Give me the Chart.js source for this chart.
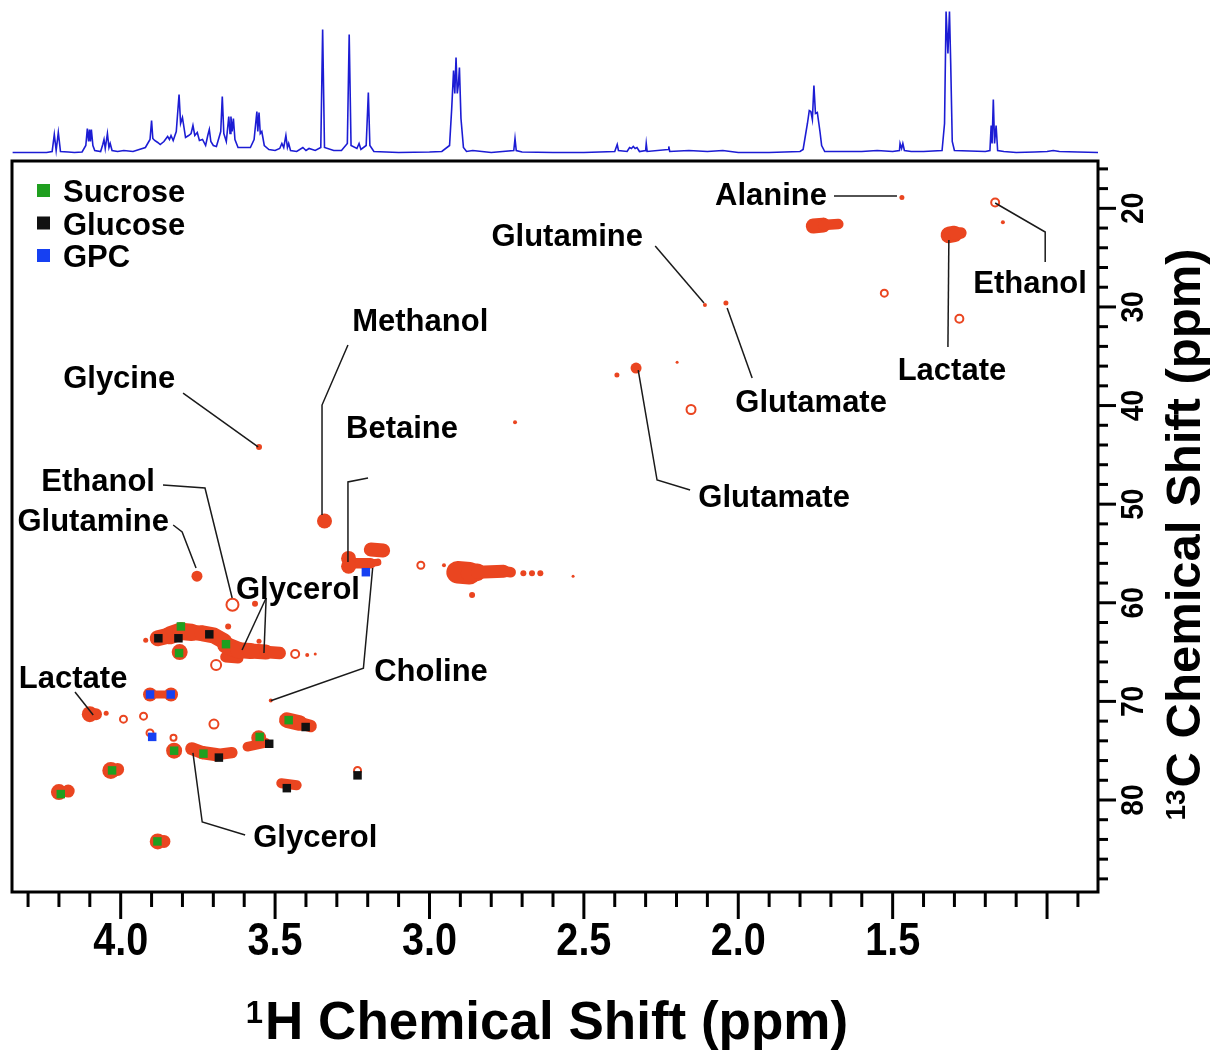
<!DOCTYPE html>
<html lang="en">
<head>
<meta charset="UTF-8">
<title>1H-13C HSQC with 1D 1H trace</title>
<script src="https://cdn.jsdelivr.net/npm/chart.js"></script>
<style>
  body { margin: 0; background: #fff; }
  #wrap { position: relative; width: 1211px; height: 1050px; }
  canvas { position: absolute; left: 0; top: 0; }
</style>
</head>
<body>
<div id="wrap">
  <canvas id="hsqc" width="1211" height="1050"></canvas>
  <canvas id="proton" width="1211" height="160"></canvas>
</div>
<script>
// ---- data ----
// 1D 1H trace shown above the map: [ppm, intensity]
const protonTrace = [
  [4.35,1],[4.24,1],[4.222,2],[4.215,19],[4.209,3],[4.202,21],[4.195,2],[4.17,1.5],[4.15,1],
  [4.125,1.5],[4.113,8],[4.108,25],[4.104,12],[4.101,24],[4.098,12],[4.095,24],[4.09,8],[4.084,3],
  [4.065,2],[4.058,9],[4.054,14],[4.05,5],[4.043,20],[4.038,6],[4.034,10],[4.028,3],[4.01,2],
  [3.99,3],[3.96,2],[3.94,4],[3.92,6],[3.905,14],[3.9,33],[3.896,15],[3.89,13],[3.88,11],[3.872,9],
  [3.86,12],[3.848,17],[3.842,14],[3.837,18],[3.83,13],[3.82,22],[3.811,59],[3.806,30],[3.8,36],
  [3.79,16],[3.78,18],[3.772,20],[3.766,28],[3.76,18],[3.752,21],[3.745,13],[3.735,14],[3.725,8],
  [3.718,18],[3.713,24],[3.708,12],[3.7,8],[3.69,7],[3.676,22],[3.671,57],[3.666,20],[3.658,12],
  [3.65,37],[3.646,20],[3.643,37],[3.639,22],[3.635,35],[3.63,14],[3.62,6],[3.6,6],[3.58,6],
  [3.568,14],[3.559,42],[3.556,22],[3.552,41],[3.548,20],[3.543,22],[3.535,8],[3.52,4],[3.5,3],
  [3.485,5],[3.478,10],[3.472,6],[3.465,18],[3.46,6],[3.456,10],[3.45,3],[3.43,2],[3.41,6],[3.4,3],
  [3.39,5],[3.37,3],[3.352,6],[3.346,124],[3.34,6],[3.31,3],[3.285,3],[3.266,10],[3.26,119],
  [3.254,8],[3.235,5],[3.228,10],[3.222,4],[3.205,8],[3.198,61],[3.193,8],[3.18,2],[3.1,1],[3.0,1.5],
  [2.96,2],[2.935,8],[2.928,45],[2.922,83],[2.918,60],[2.914,96],[2.91,60],[2.906,70],[2.903,86],
  [2.898,35],[2.89,6],[2.88,2],[2.86,3],[2.8,1],[2.727,3],[2.723,15],[2.719,3],[2.7,1.5],[2.6,1],
  [2.5,1],[2.4,2],[2.392,9],[2.388,3],[2.36,2],[2.352,6],[2.346,5],[2.34,7],[2.334,5],[2.328,6],
  [2.32,2],[2.3,3],[2.298,10],[2.295,2],[2.227,4],[2.225,7],[2.222,2],[2.16,3],[2.1,2],[2.05,3],
  [2.0,1],[1.9,1],[1.8,2],[1.79,4],[1.782,19],[1.776,30],[1.77,43],[1.765,42],[1.76,34],[1.755,68],
  [1.75,40],[1.744,41],[1.739,30],[1.735,21],[1.73,8],[1.72,2],[1.6,2],[1.55,3],[1.5,2],[1.478,3],
  [1.476,10],[1.471,5],[1.467,10],[1.462,3],[1.44,2],[1.4,2],[1.34,3],[1.332,30],[1.327,142],
  [1.321,100],[1.316,142],[1.312,90],[1.307,12],[1.3,3],[1.2,2],[1.185,3],[1.181,28],[1.178,10],
  [1.174,54],[1.17,10],[1.165,28],[1.16,3],[1.14,2],[1.1,1],[1.04,1.5],[1.0,2],[0.98,3],[0.96,2],
  [0.9,1.5],[0.835,1]
];

// HSQC contours, round spots: [1H ppm, 13C ppm, spot radius]
const solidPeaks = [
  [1.470,18.9,2.5],[1.143,21.4,2],
  [2.108,29.8,2],[2.040,29.6,2.5],[2.393,36.9,2.5],[2.331,36.2,5.5],[2.198,35.6,1.5],[2.723,41.7,2],
  [3.552,44.2,3],[3.340,51.7,7.5],[3.262,55.5,7.5],[3.262,56.3,7.5],[2.953,56.2,2],
  [2.696,57.0,3],[2.668,57.0,3],[2.641,57.0,3],[2.535,57.3,1.5],[2.862,59.2,3],
  [3.753,57.3,5.5],[3.565,60.1,3],
  [3.919,63.8,2.5],[3.809,65.0,8],[3.652,62.4,3],[3.552,63.9,2.5],[3.396,65.3,2],[3.370,65.2,1.5],
  [3.905,69.3,7],[3.837,69.3,7],
  [4.100,71.3,8],[4.080,71.3,6],[4.047,71.2,2.5],[3.514,69.9,2],
  [3.827,75.0,8],[3.553,73.7,7.5],
  [4.032,77.0,8.5],[4.010,76.9,6.5],[4.200,79.2,8],[4.170,79.1,6.5],[3.880,84.2,8],[3.860,84.2,6.5]
];
// HSQC contours, elongated ridges: [[1H ppm, 13C ppm, thickness], ...]
const ridgePeaks = [
  [[1.757,21.8,17],[1.725,21.7,13],[1.676,21.6,8]],
  [[1.318,22.7,19],[1.300,22.6,14],[1.279,22.5,9]],
  [[2.909,56.9,24],[2.870,57.0,21],[2.845,56.9,14],[2.760,56.8,12],[2.737,56.9,9]],
  [[3.245,56.0,12],[3.190,56.0,9],[3.168,55.9,6]],
  [[3.190,54.6,17],[3.150,54.7,11]],
  [[3.880,63.6,15],[3.840,63.3,17],[3.805,62.9,19],[3.770,63.0,16],[3.735,63.1,15],[3.700,63.3,17],[3.665,63.9,15]],
  [[3.660,64.3,17],[3.620,64.8,17],[3.580,64.9,15],[3.530,65.0,15],[3.485,65.1,10]],
  [[3.660,65.5,12],[3.620,65.6,10]],
  [[3.905,69.3,8],[3.837,69.3,8]],
  [[3.770,74.8,12],[3.735,75.2,14],[3.690,75.4,13],[3.640,75.2,10]],
  [[3.590,74.6,8],[3.530,74.2,11]],
  [[3.462,71.9,17],[3.420,72.2,14],[3.385,72.5,11]],
  [[3.480,78.3,10],[3.430,78.5,10]]
];
// HSQC contours, open rings: [1H ppm, 13C ppm, ring radius]
const ringPeaks = [
  [1.168,19.4,4],[1.527,28.6,3.5],[1.284,31.2,4],[2.153,40.4,4.5],[3.028,56.2,3.5],
  [3.638,60.2,6],[3.435,65.2,4],[3.691,66.3,5],[3.991,71.8,3.5],[3.926,71.5,3.5],
  [3.698,72.3,4.5],[3.905,73.2,3.5],[3.829,73.7,3],[3.233,77.0,3.5]
];

// assigned sugar / GPC cross peaks: [1H ppm, 13C ppm]
const sucrosePeaks = [[3.805,62.4],[3.811,65.1],[3.659,64.2],[3.456,71.9],[3.827,75.0],
  [3.732,75.3],[3.550,73.6],[4.028,77.0],[4.194,79.4],[3.881,84.2]];
const glucosePeaks = [[3.878,63.6],[3.813,63.6],[3.713,63.2],[3.401,72.6],[3.682,75.7],
  [3.519,74.3],[3.233,77.5],[3.462,78.8]];
const gpcPeaks = [[3.905,69.3],[3.838,69.3],[3.898,73.6],[3.206,56.9]];

const xTicks = [4.0, 3.5, 3.0, 2.5, 2.0, 1.5];
const xTickLabels = ['4.0', '3.5', '3.0', '2.5', '2.0', '1.5'];
const yTicks = [20, 30, 40, 50, 60, 70, 80];
const yTickLabels = ['20', '30', '40', '50', '60', '70', '80'];

// metabolite labels: text position and leader line(s), in ppm
const assignments = [
  { text: 'Alanine',   at: [1.894, 18.55], lines: [[[1.690, 18.75], [1.486, 18.75]]] },
  { text: 'Glutamine', at: [2.554, 22.71], lines: [[[2.269, 23.82], [2.111, 29.60]]] },
  { text: 'Ethanol',   at: [1.055, 27.47], lines: [[[1.168, 19.46], [1.006, 22.40], [1.006, 25.45]]] },
  { text: 'Methanol',  at: [3.030, 31.33], lines: [[[3.264, 33.86], [3.348, 39.95], [3.348, 51.10]]] },
  { text: 'Lactate',   at: [1.308, 36.30], lines: [[[1.318, 23.21], [1.321, 34.06]]] },
  { text: 'Glycine',   at: [4.005, 37.11], lines: [[[3.798, 38.73], [3.555, 44.20]]] },
  { text: 'Glutamate', at: [1.764, 39.54], lines: [[[2.036, 30.11], [1.955, 37.21]]] },
  { text: 'Betaine',   at: [3.089, 42.18], lines: [[[3.199, 47.35], [3.264, 47.75], [3.264, 55.87]]] },
  { text: 'Ethanol',   at: [4.073, 47.55], lines: [[[3.863, 48.06], [3.727, 48.36], [3.639, 59.52]]] },
  { text: 'Glutamate', at: [1.884, 49.17], lines: [[[2.324, 36.40], [2.263, 47.55], [2.156, 48.56]]] },
  { text: 'Glutamine', at: [4.089, 51.61], lines: [[[3.830, 52.11], [3.801, 52.82], [3.756, 56.47]]] },
  { text: 'Glycerol',  at: [3.426, 58.50], lines: [[[3.529, 59.52], [3.607, 64.79]], [[3.529, 59.52], [3.536, 65.09]]] },
  { text: 'Choline',   at: [2.995, 66.82], lines: [[[3.184, 56.47], [3.214, 66.64], [3.514, 69.93]]] },
  { text: 'Lactate',   at: [4.154, 67.53], lines: [[[4.148, 69.05], [4.089, 71.38]]] },
  { text: 'Glycerol',  at: [3.370, 83.65], lines: [[[3.766, 75.23], [3.736, 82.23], [3.597, 83.55]]] }
];

// ---- drawing ----
const FONT = "'Liberation Sans', Arial, Helvetica, sans-serif";
const CONTOUR = '#ea4520';
const H_RANGE = { min: 0.835, max: 4.352 };
const C_RANGE = { min: 15.2, max: 89.33 };

function txt(ctx, text, x, y, size, o = {}) {
  ctx.save();
  ctx.translate(x, y);
  if (o.rot) ctx.rotate(o.rot);
  if (o.squeeze) ctx.scale(o.squeeze, 1);
  ctx.font = `bold ${size}px ${FONT}`;
  ctx.textAlign = o.align || 'center';
  ctx.textBaseline = 'alphabetic';
  ctx.fillStyle = '#000';
  ctx.fillText(text, 0, 0);
  ctx.restore();
}

// title with a leading isotope superscript, centred on (x, y) baseline
function isoTitle(ctx, sup, main, x, y, size, rot) {
  ctx.save();
  ctx.translate(x, y);
  if (rot) ctx.rotate(rot);
  ctx.fillStyle = '#000';
  ctx.textBaseline = 'alphabetic';
  ctx.textAlign = 'left';
  const supSize = Math.round(size * 0.58);
  ctx.font = `bold ${supSize}px ${FONT}`;
  const ws = ctx.measureText(sup).width;
  ctx.font = `bold ${size}px ${FONT}`;
  const wm = ctx.measureText(main).width;
  const x0 = -(ws + wm + 2) / 2;
  ctx.font = `bold ${supSize}px ${FONT}`;
  ctx.fillText(sup, x0, -size * 0.716 + supSize * 0.716);
  ctx.font = `bold ${size}px ${FONT}`;
  ctx.fillText(main, x0 + ws + 2, 0);
  ctx.restore();
}

const frame = {
  id: 'frame',
  afterDatasetsDraw(chart) {
    const { ctx, chartArea: a, scales: { x, y } } = chart;
    const px = h => x.getPixelForValue(h), py = c => y.getPixelForValue(c);
    ctx.save();

    // leader lines + labels
    ctx.strokeStyle = '#1a1a1a';
    ctx.lineWidth = 1.5;
    assignments.forEach(m => {
      m.lines.forEach(seg => {
        ctx.beginPath();
        seg.forEach(([h, c], i) => i ? ctx.lineTo(px(h), py(c)) : ctx.moveTo(px(h), py(c)));
        ctx.stroke();
      });
      txt(ctx, m.text, px(m.at[0]), py(m.at[1]) + 11, 31);
    });

    // legend (top left inside the frame)
    chart.data.datasets.filter(d => d.legend).forEach((d, i) => {
      const cy = a.top + 30 + i * 32.5;
      ctx.fillStyle = d.backgroundColor;
      ctx.fillRect(a.left + 25, cy - 7, 13, 13);
      txt(ctx, d.label, a.left + 51, cy + 11, 31, { align: 'left' });
    });

    // frame
    ctx.strokeStyle = '#000';
    ctx.lineWidth = 3;
    ctx.strokeRect(a.left, a.top, a.right - a.left, a.bottom - a.top);

    // bottom ticks every 0.1 ppm, long ones every 0.5
    for (let i = 9; i <= 43; i++) {
      const xp = px(i / 10), len = i % 5 === 0 ? 27 : 15;
      ctx.beginPath(); ctx.moveTo(xp, a.bottom); ctx.lineTo(xp, a.bottom + len); ctx.stroke();
    }
    xTicks.forEach((v, i) => txt(ctx, xTickLabels[i], px(v), a.bottom + 63, 46, { squeeze: 0.86 }));
    isoTitle(ctx, '1', 'H Chemical Shift (ppm)', 547, 1039, 53);

    // right ticks every 2 ppm, long ones every 10
    for (let c = 16; c <= 88; c += 2) {
      const yp = py(c), len = c % 10 === 0 ? 18 : 10;
      ctx.beginPath(); ctx.moveTo(a.right, yp); ctx.lineTo(a.right + len, yp); ctx.stroke();
    }
    yTicks.forEach((v, i) => txt(ctx, yTickLabels[i], a.right + 45, py(v), 32, { rot: -Math.PI / 2, squeeze: 0.88 }));
    isoTitle(ctx, '13', 'C Chemical Shift (ppm)', a.right + 102, (a.top + a.bottom) / 2 + 8, 49, -Math.PI / 2);

    ctx.restore();
  }
};

const asPoints = arr => arr.map(([h, c, r]) => ({ x: h, y: c, r }));

const ridgeSets = ridgePeaks.map(ridge => ({
  type: 'line',
  label: 'ridge',
  data: asPoints(ridge),
  showLine: true,
  pointRadius: 0,
  borderColor: CONTOUR,
  borderWidth: 8,
  borderCapStyle: 'round',
  borderJoinStyle: 'round',
  segment: { borderWidth: c => (ridge[c.p0DataIndex][2] + ridge[c.p1DataIndex][2]) / 2 },
  order: 2
}));

new Chart(document.getElementById('hsqc'), {
  type: 'scatter',
  data: {
    datasets: [
      { label: 'Sucrose', legend: true, data: asPoints(sucrosePeaks), pointStyle: 'rect',
        pointRadius: 6, backgroundColor: '#1f9f1f', borderWidth: 0, order: 0 },
      { label: 'Glucose', legend: true, data: asPoints(glucosePeaks), pointStyle: 'rect',
        pointRadius: 6, backgroundColor: '#111111', borderWidth: 0, order: 0 },
      { label: 'GPC', legend: true, data: asPoints(gpcPeaks), pointStyle: 'rect',
        pointRadius: 6, backgroundColor: '#1640f2', borderWidth: 0, order: 0 },
      { label: 'contours', data: asPoints(solidPeaks), pointRadius: c => c.raw.r,
        backgroundColor: CONTOUR, borderColor: CONTOUR, borderWidth: 0, order: 1 },
      { label: 'rings', data: asPoints(ringPeaks), pointRadius: c => c.raw.r,
        backgroundColor: 'rgba(0,0,0,0)', borderColor: CONTOUR, borderWidth: 2, order: 1 },
      ...ridgeSets
    ]
  },
  options: {
    responsive: false,
    animation: false,
    events: [],
    layout: { padding: { left: 12, top: 161, right: 113, bottom: 158 } },
    plugins: { legend: { display: false }, tooltip: { enabled: false } },
    scales: {
      x: { type: 'linear', reverse: true, min: H_RANGE.min, max: H_RANGE.max, display: false },
      y: { type: 'linear', reverse: true, min: C_RANGE.min, max: C_RANGE.max, display: false }
    }
  },
  plugins: [frame]
});

new Chart(document.getElementById('proton'), {
  type: 'line',
  data: {
    datasets: [{
      data: protonTrace.map(([h, v]) => ({ x: h, y: v })),
      borderColor: '#1c1cd4',
      borderWidth: 1.6,
      pointRadius: 0,
      tension: 0,
      clip: false
    }]
  },
  options: {
    responsive: false,
    animation: false,
    events: [],
    layout: { padding: { left: 12, top: 10, right: 113, bottom: 6.5 } },
    plugins: { legend: { display: false }, tooltip: { enabled: false } },
    scales: {
      x: { type: 'linear', reverse: true, min: H_RANGE.min, max: H_RANGE.max, display: false },
      y: { type: 'linear', min: 0, max: 143.5, display: false }
    }
  }
});
</script>
</body>
</html>
